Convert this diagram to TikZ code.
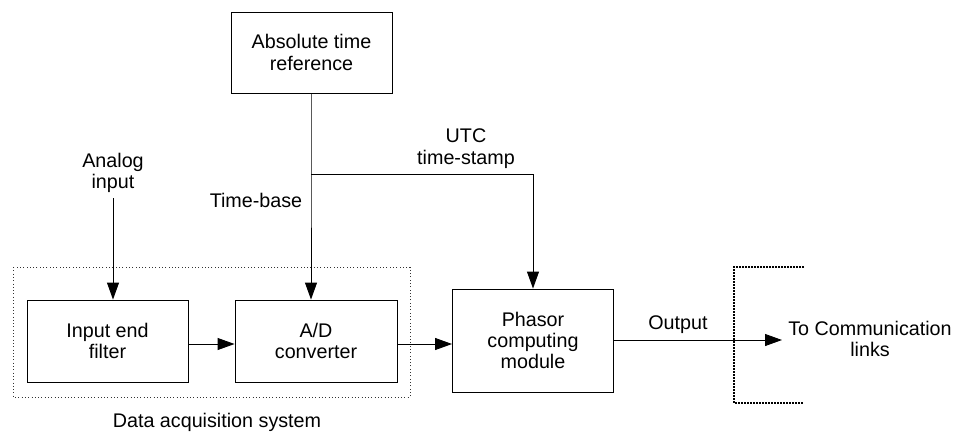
\documentclass[tikz,border=0pt]{standalone}
\usepackage{fontspec}
\setmainfont{Liberation Sans}
\usetikzlibrary{arrows.meta}
\begin{document}
\begin{tikzpicture}[x=1bp,y=-1bp,
  font=\fontsize{19.8}{21.5}\selectfont,
  block/.style={draw, line width=0.9bp, rectangle, align=center, inner sep=0pt},
  lbl/.style={align=center, inner sep=0pt},
  wire/.style={line width=0.9bp},
  arr/.style={wire, -{Triangle[length=17bp,width=12bp]}},
  groupbox/.style={line width=0.9bp, dash pattern=on 0.9bp off 2.4bp, draw=black!80},
  bracket/.style={line width=2bp, dash pattern=on 1.6bp off 1.4bp}]
\useasboundingbox (0,0) rectangle (955,432);

% blocks
\node[block, minimum width=161bp, minimum height=81bp] (atr) at (311.5,52.5) {Absolute time\\reference};
\node[block, minimum width=161bp, minimum height=82bp] (filt) at (107.5,341) {Input end\\filter};
\node[block, minimum width=162bp, minimum height=82bp] (adc) at (316,341) {A/D\\converter};
\node[block, minimum width=161bp, minimum height=103bp] (pcm) at (533,340.5) {Phasor\\computing\\module};

% labels
\node[lbl] (ain) at (113,173) {Analog\\input};
\node[lbl] (tb) at (256,200) {Time-base};
\node[lbl] (utc) at (466,148.5) {UTC\\time-stamp};
\node[lbl] (out) at (678,325) {Output};
\node[lbl] (comm) at (870,339) {To Communication\\links};
\node[lbl] (das) at (217,422) {Data acquisition system};

% group outline and link boundary
\draw[groupbox] (13,267) rectangle (410,397);
\draw[bracket] (804,267) -- (734,267) -- (734,403) -- (804,403);

% connections
\coordinate (ainend) at (113,198);
\coordinate (tap) at (311,174);
\coordinate (utcturn) at (533,174);
\coordinate (linkend) at (782,340);

\draw[arr] (ainend) -- (ainend |- filt.north);
\draw[arr] (atr.south -| tap) -- (tap) -- (tap |- adc.north);
\draw[arr] (tap) -- (utcturn) -- (utcturn |- pcm.north);
\draw[arr] (filt.east |- 0,344) -- (adc.west |- 0,344);
\draw[arr] (adc.east |- 0,344) -- (pcm.west |- 0,344);
\draw[arr] (pcm.east |- linkend) -- (linkend);
\end{tikzpicture}
\end{document}
